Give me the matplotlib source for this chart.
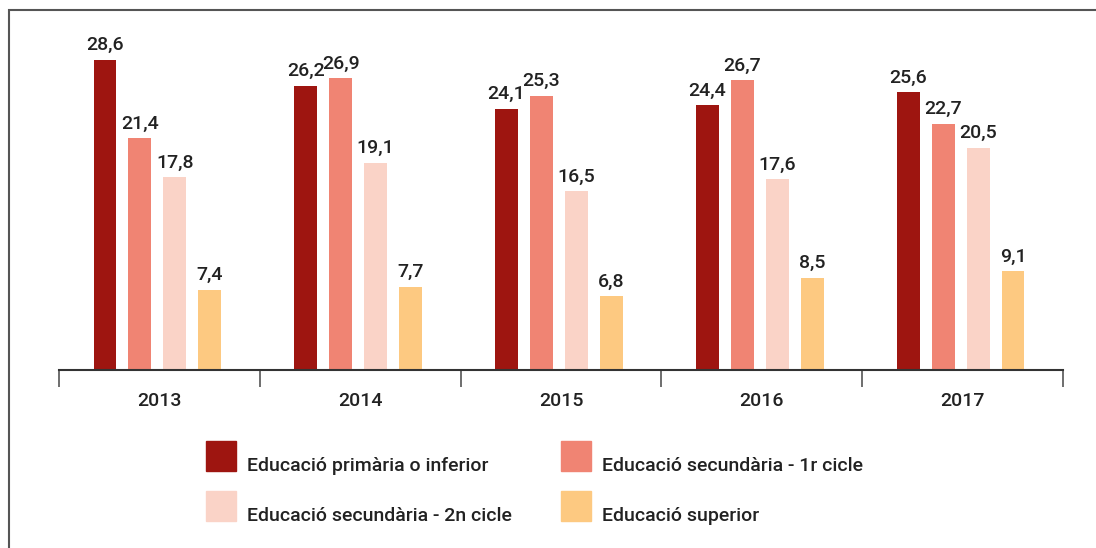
import matplotlib.pyplot as plt
import numpy as np
from matplotlib.patches import Rectangle

years = ['2013', '2014', '2015', '2016', '2017']
categories = ['Educació primària o inferior', 'Educació secundària - 1r cicle',
              'Educació secundària - 2n cicle', 'Educació superior']
primaria = [28.6, 26.2, 24.1, 24.4, 25.6]
secundaria1 = [21.4, 26.9, 25.3, 26.7, 22.7]
secundaria2 = [17.8, 19.1, 16.5, 17.6, 20.5]
superior = [7.4, 7.7, 6.8, 8.5, 9.1]
colors = ['#9E1510', '#F08473', '#FAD3C7', '#FDC981']

plt.rcParams['font.family'] = ['Roboto', 'DejaVu Sans']
txt_color = '#222222'

W, H = 1096, 548
fig = plt.figure(figsize=(W / 100, H / 100), dpi=100)
ax = fig.add_axes([59 / W, (H - 370) / H, 1004 / W, 360 / H])

series = [primaria, secundaria1, secundaria2, superior]
x = np.arange(len(years))
step = 0.174
width = 0.114
for i, (vals, c) in enumerate(zip(series, colors)):
    pos = x + (i - 1.5) * step - 0.01
    bars = ax.bar(pos, vals, width=width, color=c, zorder=2)
    for b, v in zip(bars, vals):
        ax.annotate(f'{v:.1f}'.replace('.', ','), (b.get_x() + b.get_width() / 2, v),
                    xytext=(0, 4), textcoords='offset points', ha='center', va='bottom',
                    fontsize=14, fontweight='medium', color=txt_color)

ax.set_xlim(-0.5, len(years) - 0.5)
ax.set_ylim(0, 33.2)
ax.set_yticks([])
for s in ['left', 'right', 'top']:
    ax.spines[s].set_visible(False)
ax.spines['bottom'].set_linewidth(1.5)
ax.spines['bottom'].set_color('#333333')

ax.set_xticks(np.arange(len(years) + 1) - 0.5)
ax.set_xticklabels([])
ax.tick_params(axis='x', which='major', length=12, width=1.2, color='#555555')
ax.set_xticks(x, minor=True)
ax.set_xticklabels(years, minor=True, fontsize=14, fontweight='medium', color=txt_color)
ax.tick_params(axis='x', which='minor', length=0, pad=16)

# outer frame
fig.patches.append(Rectangle((9 / W, -0.1), 1.2, (H - 10) / H + 0.1, transform=fig.transFigure,
                             fill=False, edgecolor='#555555', linewidth=1.5))

# legend
leg_pos = [(206, 441), (561, 441), (206, 491), (561, 491)]
for (lx, ly), lab, c in zip(leg_pos, categories, colors):
    fig.patches.append(Rectangle((lx / W, (H - ly - 30) / H), 30 / W, 30 / H,
                                 transform=fig.transFigure, color=c))
    fig.text((lx + 41) / W, (H - ly - 30) / H, lab, fontsize=14, fontweight='medium',
             color=txt_color, ha='left', va='baseline')

fig.savefig('out.png', dpi=100)
